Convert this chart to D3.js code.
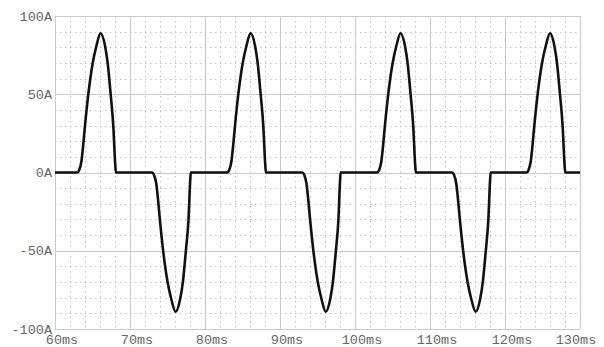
<!DOCTYPE html>
<html>
<head>
<meta charset="utf-8">
<script src="https://cdn.jsdelivr.net/npm/d3@7"></script>
<style>
  body { margin: 0; background: #fff; }
  .tick-label { font-family: "Liberation Mono", "DejaVu Sans Mono", monospace; font-size: 13.5px; fill: #666; }
</style>
</head>
<body>
<div id="chart"></div>
<script>
// Data (time in ms, current in A)
const timeMs = [
  60,
  62.97, 63.22, 63.52, 63.77, 64.00, 64.44, 65.03, 65.53, 66.07, 66.67, 67.02, 67.42, 67.77, 68.02, 68.12,
  72.95, 73.20, 73.50, 73.75, 73.98, 74.42, 75.01, 75.51, 76.08, 76.68, 77.05, 77.45, 77.80, 78.02, 78.10,
  82.97, 83.22, 83.52, 83.77, 84.00, 84.44, 85.03, 85.53, 86.08, 86.67, 87.02, 87.42, 87.77, 88.02, 88.12,
  92.98, 93.23, 93.53, 93.78, 94.01, 94.45, 95.04, 95.54, 96.09, 96.69, 97.05, 97.45, 97.79, 98.00, 98.08,
  102.96, 103.21, 103.51, 103.76, 103.99, 104.43, 105.02, 105.52, 106.07, 106.66, 107.01, 107.41, 107.76, 108.01, 108.11,
  112.95, 113.20, 113.50, 113.75, 113.98, 114.42, 115.01, 115.51, 116.09, 116.68, 117.04, 117.44, 117.78, 118.00, 118.08,
  122.88, 123.13, 123.43, 123.68, 123.91, 124.35, 124.94, 125.44, 126.00, 126.58, 126.93, 127.33, 127.68, 127.93, 128.03,
  130
];
const currentA = [
  0,
  0, 1.5, 7, 18, 30, 50, 70, 81, 89, 81, 70, 50, 30, 6, 0,
  0, -1.5, -7, -18, -30, -50, -70, -81, -89, -81, -70, -50, -30, -6, 0,
  0, 1.5, 7, 18, 30, 50, 70, 81, 89, 81, 70, 50, 30, 6, 0,
  0, -1.5, -7, -18, -30, -50, -70, -81, -89, -81, -70, -50, -30, -6, 0,
  0, 1.5, 7, 18, 30, 50, 70, 81, 89, 81, 70, 50, 30, 6, 0,
  0, -1.5, -7, -18, -30, -50, -70, -81, -89, -81, -70, -50, -30, -6, 0,
  0, 1.5, 7, 18, 30, 50, 70, 81, 89, 81, 70, 50, 30, 6, 0,
  0
];
const xTicks = [60, 70, 80, 90, 100, 110, 120, 130];
const xTickLabels = ["60ms", "70ms", "80ms", "90ms", "100ms", "110ms", "120ms", "130ms"];
const yTicks = [100, 50, 0, -50, -100];
const yTickLabels = ["100A", "50A", "0A", "-50A", "-100A"];

const width = 604, height = 347;
const margin = { top: 16, right: 24, bottom: 18, left: 55 };

const svg = d3.select("#chart").append("svg")
    .attr("width", width)
    .attr("height", height);

const x = d3.scaleLinear().domain([60, 130]).range([margin.left, width - margin.right]);
const y = d3.scaleLinear().domain([-100, 100]).range([height - margin.bottom, margin.top]);

// Minor dotted grid
const minorX = d3.range(60, 130.01, 2).filter(v => v % 10 !== 0);
const minorY = d3.range(-100, 100.01, 10).filter(v => v % 50 !== 0);
const grid = svg.append("g");
grid.selectAll(".mx").data(minorX).enter().append("line")
    .attr("x1", d => x(d) + 0.5).attr("x2", d => x(d) + 0.5)
    .attr("y1", y(100)).attr("y2", y(-100))
    .attr("stroke", "#c2c2c2").attr("stroke-dasharray", "1.5,3.5");
grid.selectAll(".my").data(minorY).enter().append("line")
    .attr("x1", x(60)).attr("x2", x(130))
    .attr("y1", d => Math.round(y(d)) + 0.5).attr("y2", d => Math.round(y(d)) + 0.5)
    .attr("stroke", "#c2c2c2").attr("stroke-dasharray", "1.5,3.5");

// Major solid grid
grid.selectAll(".Mx").data(xTicks).enter().append("line")
    .attr("x1", d => x(d) + 0.5).attr("x2", d => x(d) + 0.5)
    .attr("y1", y(100)).attr("y2", y(-100))
    .attr("stroke", "#cacaca");
grid.selectAll(".My").data(yTicks).enter().append("line")
    .attr("x1", x(60)).attr("x2", x(130))
    .attr("y1", d => Math.round(y(d)) + 0.5).attr("y2", d => Math.round(y(d)) + 0.5)
    .attr("stroke", "#cacaca");

// Axis labels
svg.append("g").selectAll("text").data(yTicks).enter().append("text")
    .attr("class", "tick-label")
    .attr("x", x(60) - 3)
    .attr("y", d => y(d))
    .attr("dy", "0.35em")
    .attr("text-anchor", "end")
    .text((d, i) => yTickLabels[i]);

svg.append("g").selectAll("text").data(xTicks).enter().append("text")
    .attr("class", "tick-label")
    .attr("x", d => Math.min(x(d) + 7, width - 28))
    .attr("y", height - 3)
    .attr("text-anchor", "middle")
    .text((d, i) => xTickLabels[i]);

// Waveform
const points = timeMs.map((t, i) => [t, currentA[i]]);
const line = d3.line()
    .x(d => x(d[0]))
    .y(d => y(d[1]))
    .curve(d3.curveMonotoneX);

svg.append("path")
    .datum(points)
    .attr("fill", "none")
    .attr("stroke", "#111")
    .attr("stroke-width", 2.6)
    .attr("stroke-linejoin", "round")
    .attr("d", line);
</script>
</body>
</html>
